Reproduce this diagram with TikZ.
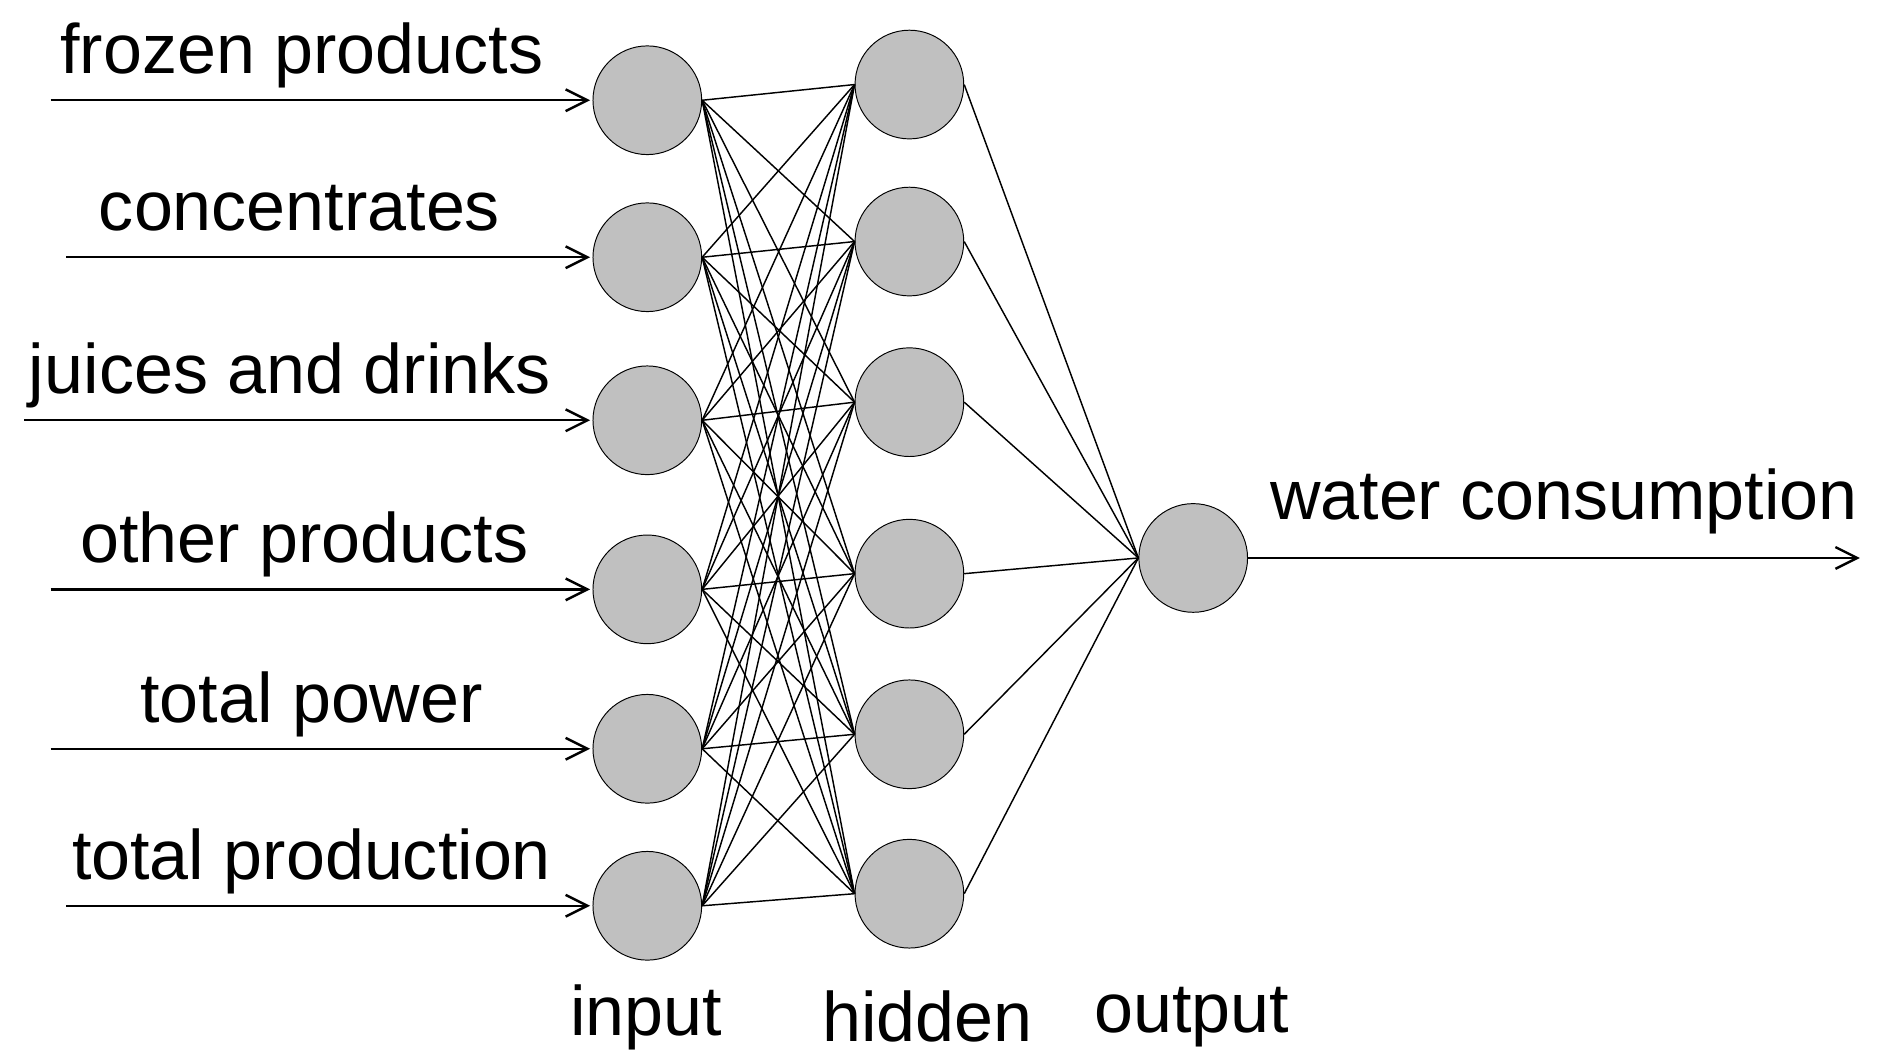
\documentclass[tikz,border=0pt]{standalone}
\usepackage{fontspec}
\setmainfont{Liberation Sans}
\usetikzlibrary{arrows.meta}
\begin{document}
\begin{tikzpicture}[x=0.5pt,y=0.5pt,yscale=-1,
  neuron/.style={circle,draw,fill={rgb,255:red,192;green,192;blue,192},minimum size=45pt,inner sep=0pt},
  feed/.style={draw,-{Straight Barb[length=9pt,width=9pt]}},
  lbl/.style={font=\fontsize{29}{32}\selectfont}]
\useasboundingbox (0,0) rectangle (1560,874);

% input layer
\foreach \i/\y in {1/83,2/213,3/348,4/488,5/620,6/750}
  \node[neuron] (in\i) at (536,\y) {};
% hidden layer
\foreach \j/\y in {1/70,2/200,3/333,4/475,5/608,6/740}
  \node[neuron] (hid\j) at (753,\y) {};
% output layer
\node[neuron] (out) at (988,462) {};

% connections
\foreach \i in {1,...,6}
  \foreach \j in {1,...,6}
    \draw[line width=0.6pt] (in\i.east) -- (hid\j.west);
\foreach \j in {1,...,6}
  \draw[line width=0.6pt] (hid\j.east) -- (out.west);

% input arrows
\foreach \i/\xs/\txt/\tx in {1/42/frozen products/250,2/55/concentrates/248,3/20/juices and drinks/240,
  4/42/other products/252,5/42/total power/258,6/55/total production/258}
{
  \coordinate (src\i) at (\xs,0 |- in\i.west);
  \draw[feed,line width=1pt] (src\i) -- ([xshift=-1pt]in\i.west);
  \node[lbl,anchor=base] (lab\i) at ([yshift=-11pt]\tx,0 |- in\i.west) {\txt};
}

% output arrow
\coordinate (sink) at (1540,462);
\draw[feed,line width=1pt] (out.east) -- (sink);
\node[lbl,anchor=base] (labout) at (1295,430) {water consumption};

% layer names
\node[lbl] (tin) at (535,842) {input};
\node[lbl] (thid) at (768,842) {hidden};
\node[lbl] (tout) at (987,842) {output};
\end{tikzpicture}
\end{document}
